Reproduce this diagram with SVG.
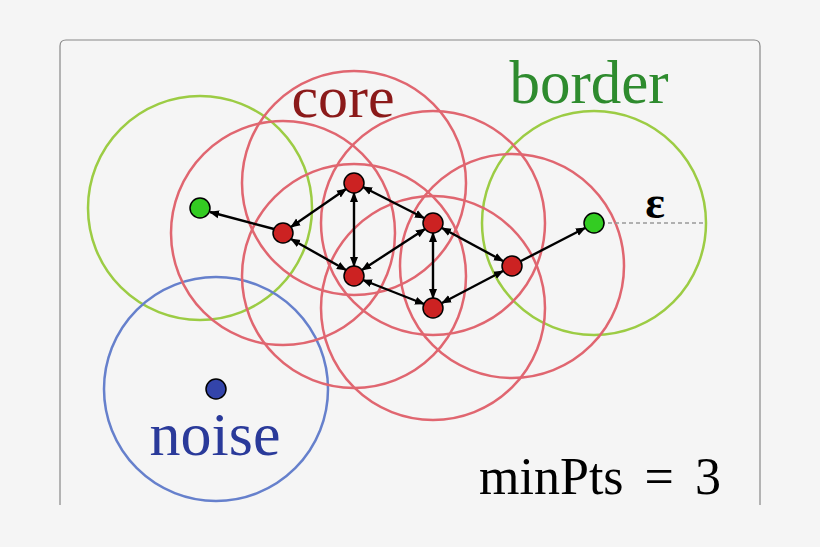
<svg xmlns="http://www.w3.org/2000/svg" width="820" height="547" viewBox="0 0 820 547">
<defs>
<marker id="ah" viewBox="0 0 10 10" refX="9" refY="5" markerWidth="10" markerHeight="10" markerUnits="userSpaceOnUse" orient="auto-start-reverse"><path d="M0,1 L10,5 L0,9 z" fill="#000"/></marker>
<style>
.red{fill:none;stroke:#e06670;stroke-width:2.5}
.grn{fill:none;stroke:#9ccc44;stroke-width:2.5}
.blu{fill:none;stroke:#6680cc;stroke-width:2.5}
.c{fill:#cc2222;stroke:#000;stroke-width:1.5}
.b{fill:#33cc22;stroke:#000;stroke-width:1.5}
.n{fill:#3344aa;stroke:#000;stroke-width:1.5}
.e{stroke:#000;stroke-width:2.4;marker-end:url(#ah)}
.bi{stroke:#000;stroke-width:2.4;marker-end:url(#ah);marker-start:url(#ah)}
text{font-family:"Liberation Serif",serif}
</style>
</defs>
<rect width="820" height="547" fill="#f5f5f5"/>
<path d="M60,505 V46 Q60,40 66,40 H754 Q760,40 760,46 V505" fill="none" stroke="#888" stroke-width="1.2"/>
<g id="circles">
<circle class="grn" cx="200" cy="208" r="112"/>
<circle class="grn" cx="594" cy="223" r="112"/>
<circle class="blu" cx="216" cy="389" r="112"/>
<circle class="red" cx="283" cy="233" r="112"/>
<circle class="red" cx="354" cy="183" r="112"/>
<circle class="red" cx="354" cy="276" r="112"/>
<circle class="red" cx="433" cy="223" r="112"/>
<circle class="red" cx="433" cy="308" r="112"/>
<circle class="red" cx="512" cy="266" r="112"/>
</g>
<line x1="594" y1="223" x2="706" y2="223" stroke="#999" stroke-width="1.5" stroke-dasharray="4,3"/>
<g id="connectors">
<line class="e" x1="274" y1="229" x2="210" y2="212"/>
<line class="bi" x1="291" y1="227" x2="346" y2="189"/>
<line class="bi" x1="291" y1="239" x2="346" y2="270"/>
<line class="bi" x1="354" y1="193" x2="354" y2="266"/>
<line class="bi" x1="363" y1="187" x2="424" y2="218"/>
<line class="bi" x1="362" y1="270" x2="425" y2="229"/>
<line class="bi" x1="433" y1="233" x2="433" y2="298"/>
<line class="bi" x1="363" y1="280" x2="424" y2="304"/>
<line class="bi" x1="442" y1="228" x2="503" y2="261"/>
<line class="bi" x1="442" y1="303" x2="503" y2="271"/>
<line class="e" x1="521" y1="261" x2="585" y2="228"/>
</g>
<g id="core-points">
<circle class="c" cx="283" cy="233" r="10"/>
<circle class="c" cx="354" cy="183" r="10"/>
<circle class="c" cx="354" cy="276" r="10"/>
<circle class="c" cx="433" cy="223" r="10"/>
<circle class="c" cx="433" cy="308" r="10"/>
<circle class="c" cx="512" cy="266" r="10"/>
</g>
<g id="border-points">
<circle class="b" cx="200" cy="208" r="10"/>
<circle class="b" cx="594" cy="223" r="10"/>
</g>
<g id="noise-point"><circle class="n" cx="216" cy="389" r="10"/></g>
<g id="labels">
<text x="343" y="117" font-size="60" fill="#8b1a1a" text-anchor="middle">core</text>
<text x="589" y="103" font-size="61" fill="#2e8b2e" text-anchor="middle">border</text>
<text x="215" y="455" font-size="62" fill="#2a3a9a" text-anchor="middle">noise</text>
<text x="600" y="494" font-size="52" fill="#000" text-anchor="middle" word-spacing="8">minPts = 3</text>
<text x="655" y="218" font-size="46" font-weight="bold" fill="#000" text-anchor="middle">ε</text>
</g>
</svg>
